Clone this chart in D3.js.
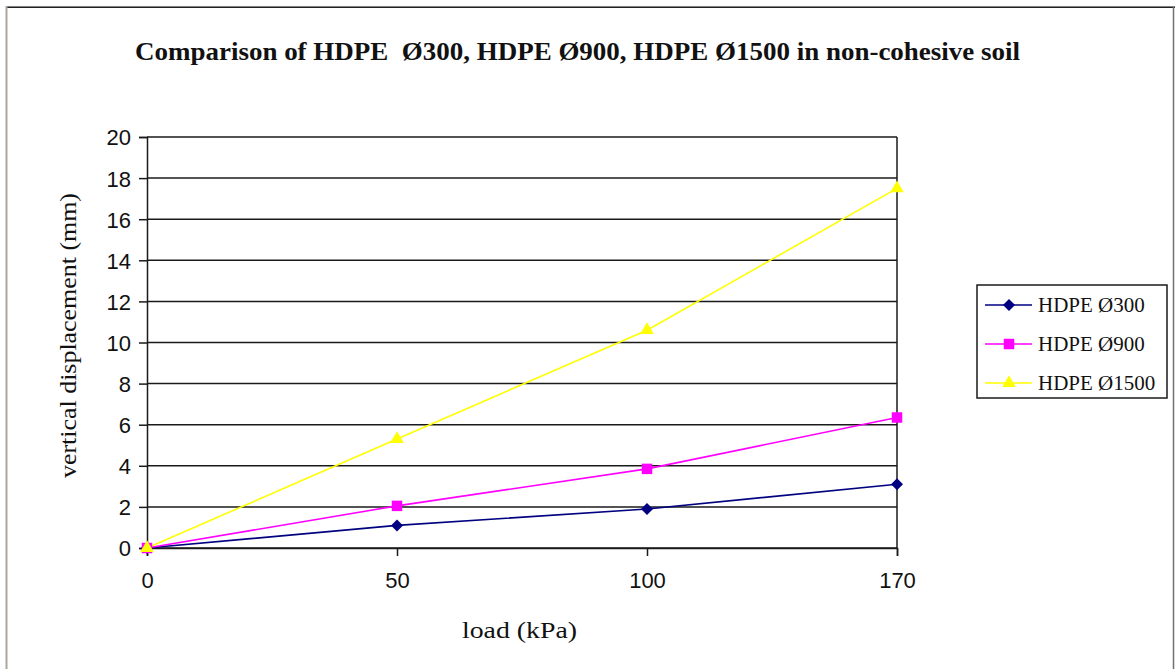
<!DOCTYPE html>
<html>
<head>
<meta charset="utf-8">
<script src="https://cdn.jsdelivr.net/npm/d3@7"></script>
<style>
  body { margin: 0; background: #fff; }
  svg { display: block; }
  text { white-space: pre; }
</style>
</head>
<body>
<svg id="viz" width="1175" height="669"></svg>
<script>
// data
const loads = ["0", "50", "100", "170"];
const seriesNames = ["HDPE \u00D8300", "HDPE \u00D8900", "HDPE \u00D81500"];
const d300 = [0, 1.1, 1.9, 3.1];
const d900 = [0, 2.05, 3.85, 6.35];
const d1500 = [0, 5.3, 10.6, 17.5];
const yTicks = [0, 2, 4, 6, 8, 10, 12, 14, 16, 18, 20];

const colors = ["#000080", "#ff00ff", "#ffff00"];
const allSeries = [d300, d900, d1500];

const serif = "Liberation Serif, Times New Roman, serif";
const sans = "Liberation Sans, Arial, sans-serif";

var svg = d3.select("#viz");
var width = +svg.attr("width");
var height = +svg.attr("height");

// marker shapes: diamond is a rotated square
const markerPath = [
    d3.symbol().type(d3.symbolSquare).size(72)(),
    d3.symbol().type(d3.symbolSquare).size(110)(),
    d3.symbol().type(d3.symbolTriangle).size(80)()
];
const markerRot = [45, 0, 0];

// outer frame
svg.append("line").attr("x1", 6).attr("x2", 1175).attr("y1", 6.5).attr("y2", 6.5)
    .attr("stroke", "#808080").attr("stroke-width", 1);
svg.append("line").attr("x1", 7).attr("x2", 1175).attr("y1", 7.5).attr("y2", 7.5)
    .attr("stroke", "#222").attr("stroke-width", 1.2);
svg.append("line").attr("x1", 6.5).attr("x2", 6.5).attr("y1", 6).attr("y2", height)
    .attr("stroke", "#aca899").attr("stroke-width", 2);
svg.append("line").attr("x1", 1173.5).attr("x2", 1173.5).attr("y1", 7).attr("y2", height)
    .attr("stroke", "#707070").attr("stroke-width", 1.5);

const margin = { left: 147, right: 897, top: 137, bottom: 548 };

const x = d3.scalePoint()
    .domain(loads)
    .range([margin.left, margin.right]);

const y = d3.scaleLinear()
    .domain([0, 20])
    .range([margin.bottom, margin.top]);

// gridlines
svg.append("g")
    .selectAll("line.grid")
    .data(yTicks)
    .enter()
    .append("line")
    .attr("class", "grid")
    .attr("x1", margin.left)
    .attr("x2", margin.right)
    .attr("y1", d => y(d))
    .attr("y2", d => y(d))
    .attr("stroke", "#1a1a1a")
    .attr("stroke-width", 1.5);

// right border of plot area
svg.append("line")
    .attr("x1", margin.right).attr("x2", margin.right)
    .attr("y1", margin.top).attr("y2", margin.bottom)
    .attr("stroke", "#1a1a1a").attr("stroke-width", 1.5);

// y axis
const yAxis = svg.append("g")
    .attr("transform", `translate(${margin.left},0)`)
    .call(d3.axisLeft(y).tickValues(yTicks).tickSize(8).tickPadding(8));
yAxis.select(".domain").attr("stroke", "#1a1a1a").attr("stroke-width", 1.5);
yAxis.selectAll(".tick line").attr("stroke", "#1a1a1a").attr("stroke-width", 1.5);
yAxis.selectAll("text")
    .attr("font-family", sans)
    .attr("font-size", 22)
    .attr("dy", "0.36em")
    .attr("fill", "#111");

// x axis
const xAxis = svg.append("g")
    .attr("transform", `translate(0,${margin.bottom})`)
    .call(d3.axisBottom(x).tickSize(8).tickPadding(16));
xAxis.select(".domain").attr("stroke", "#1a1a1a").attr("stroke-width", 1.5);
xAxis.selectAll(".tick line").attr("stroke", "#1a1a1a").attr("stroke-width", 1.5);
xAxis.selectAll("text")
    .attr("font-family", sans)
    .attr("font-size", 22)
    .attr("fill", "#111");

// lines and markers
const line = d3.line()
    .x((d, i) => x(loads[i]))
    .y(d => y(d));

allSeries.forEach((vals, s) => {
    svg.append("path")
        .datum(vals)
        .attr("fill", "none")
        .attr("stroke", colors[s])
        .attr("stroke-width", 1.6)
        .attr("d", line);
});
allSeries.forEach((vals, s) => {
    svg.append("g")
        .selectAll("path.marker")
        .data(vals)
        .enter()
        .append("path")
        .attr("class", "marker")
        .attr("transform", (d, i) => `translate(${x(loads[i])},${y(d)}) rotate(${markerRot[s]})`)
        .attr("d", markerPath[s])
        .attr("fill", colors[s]);
});

// title
svg.append("text")
    .attr("x", 135)
    .attr("y", 60)
    .attr("textLength", 885)
    .attr("lengthAdjust", "spacingAndGlyphs")
    .attr("font-family", serif)
    .attr("font-weight", "bold")
    .attr("font-size", 25)
    .attr("fill", "#111")
    .text("Comparison of HDPE  \u00D8300, HDPE \u00D8900, HDPE \u00D81500 in non-cohesive soil");

// axis titles
svg.append("text")
    .attr("x", 462)
    .attr("y", 638)
    .attr("textLength", 115)
    .attr("lengthAdjust", "spacingAndGlyphs")
    .attr("font-family", serif)
    .attr("font-size", 23)
    .attr("fill", "#111")
    .text("load (kPa)");

svg.append("text")
    .attr("transform", "translate(76,478) rotate(-90)")
    .attr("textLength", 285)
    .attr("lengthAdjust", "spacingAndGlyphs")
    .attr("font-family", serif)
    .attr("font-size", 23)
    .attr("fill", "#111")
    .text("vertical displacement (mm)");

// legend
const legend = svg.append("g").attr("transform", "translate(977,285)");
legend.append("rect")
    .attr("x", 0).attr("y", 0)
    .attr("width", 190).attr("height", 113)
    .attr("fill", "#fff")
    .attr("stroke", "#1a1a1a")
    .attr("stroke-width", 1.5);

seriesNames.forEach((name, s) => {
    const ly = 20 + s * 39;
    legend.append("line")
        .attr("x1", 8).attr("x2", 55)
        .attr("y1", ly).attr("y2", ly)
        .attr("stroke", colors[s]).attr("stroke-width", 1.6);
    legend.append("path")
        .attr("transform", `translate(32,${ly}) rotate(${markerRot[s]})`)
        .attr("d", markerPath[s])
        .attr("fill", colors[s]);
    legend.append("text")
        .attr("x", 61)
        .attr("y", ly + 7)
        .attr("font-family", serif)
        .attr("font-size", 21)
        .attr("fill", "#111")
        .text(name);
});
</script>
</body>
</html>
